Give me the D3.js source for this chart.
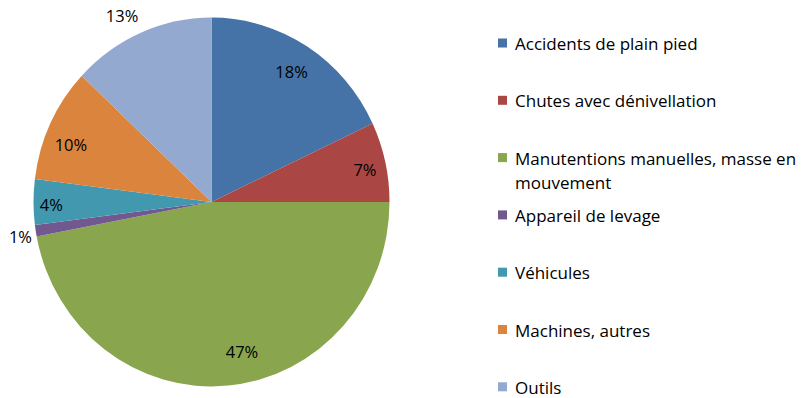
<!DOCTYPE html>
<html>
<head>
<meta charset="utf-8">
<script src="https://cdn.jsdelivr.net/npm/d3@7"></script>
<style>
  html, body { margin: 0; padding: 0; background: #fff; }
  svg { display: block; }
  text { font-family: "Open Sans", Lato, sans-serif; fill: #000; }
</style>
</head>
<body>
<svg id="chart" width="804" height="398"></svg>
<script>
// Répartition des accidents par type
const categories = [
  "Accidents de plain pied",
  "Chutes avec dénivellation",
  "Manutentions manuelles, masse en mouvement",
  "Appareil de levage",
  "Véhicules",
  "Machines, autres",
  "Outils"
];
const values = [18, 7, 47, 1, 4, 10, 13];
const colors = ["#4572A7", "#AA4643", "#89A54E", "#71588F", "#4198AF", "#DB843D", "#93A9CF"];

// Label placement: radius as a fraction of the pie radius, plus an angle nudge (degrees)
const labelRadius = [0.84, 0.88, 0.83, 1.09, 0.90, 0.85, 1.13];
const labelNudge  = [0, 1, -6.5, -1, -1, -3.5, -3];

// Legend line breaks
const legendLines = [
  ["Accidents de plain pied"],
  ["Chutes avec dénivellation"],
  ["Manutentions manuelles, masse en", "mouvement"],
  ["Appareil de levage"],
  ["Véhicules"],
  ["Machines, autres"],
  ["Outils"]
];

const svg = d3.select("#chart");
const cx = 211.5, cy = 202, R = 178, stretchY = 1.036;
const labelSize = 16.5, legendSize = 17;

const data = categories.map((c, i) => ({ name: c, value: values[i], color: colors[i], i }));

const pie = d3.pie().value(d => d.value).sort(null);
const arcs = pie(data);
const arc = d3.arc().innerRadius(0).outerRadius(R);

const pieG = svg.append("g").attr("transform", `translate(${cx},${cy}) scale(1,${stretchY})`);
pieG.selectAll("path")
  .data(arcs)
  .join("path")
  .attr("d", arc)
  .attr("fill", d => d.data.color);

// Percentage labels
const labelAngle = d => (d.startAngle + d.endAngle) / 2 + labelNudge[d.data.i] * Math.PI / 180;
const labelG = svg.append("g").attr("transform", `translate(${cx},${cy})`);
labelG.selectAll("text")
  .data(arcs)
  .join("text")
  .attr("x", d => Math.sin(labelAngle(d)) * R * labelRadius[d.data.i])
  .attr("y", d => -Math.cos(labelAngle(d)) * R * labelRadius[d.data.i] * stretchY)
  .attr("text-anchor", "middle")
  .attr("dominant-baseline", "central")
  .attr("font-size", labelSize)
  .text(d => d.data.value + "%");

// Legend
const legendX = 498, legendY0 = 43, legendStep = 57.3, lineH = 24;
const legend = svg.append("g");
const items = legend.selectAll("g")
  .data(data)
  .join("g")
  .attr("transform", d => `translate(${legendX},${legendY0 + d.i * legendStep})`);
items.append("rect")
  .attr("x", 0).attr("y", -4.5)
  .attr("width", 9).attr("height", 9)
  .attr("fill", d => d.color);
items.each(function(d) {
  const t = d3.select(this).append("text")
    .attr("x", 17).attr("y", 0)
    .attr("dominant-baseline", "central")
    .attr("font-size", legendSize);
  legendLines[d.i].forEach((line, k) => {
    t.append("tspan").attr("x", 17).attr("y", k * lineH).text(line);
  });
});
</script>
</body>
</html>
